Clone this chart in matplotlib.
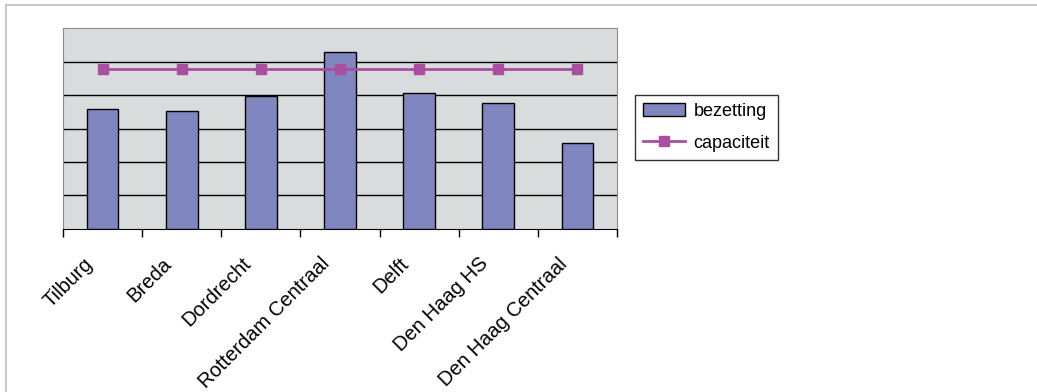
import matplotlib.pyplot as plt
import numpy as np
from matplotlib.lines import Line2D
import matplotlib.transforms as mtransforms

plt.rcParams['font.family'] = ['Liberation Sans', 'DejaVu Sans']

stations = ["Tilburg", "Breda", "Dordrecht", "Rotterdam Centraal",
            "Delft", "Den Haag HS", "Den Haag Centraal"]
bezetting = [3.57, 3.52, 3.97, 5.27, 4.05, 3.75, 2.58]
capaciteit = [4.78, 4.78, 4.78, 4.78, 4.78, 4.78, 4.78]

bar_color = "#7f86c0"
line_color = "#a84fa0"
bg_color = "#d9dcdc"

fig = plt.figure(figsize=(10.37, 3.92), dpi=100)
ax = fig.add_axes([63 / 1037, 1 - 229 / 392, 554 / 1037, 201 / 392])
ax.set_facecolor(bg_color)

x = np.arange(len(stations))
bars = ax.bar(x, bezetting, width=0.4, color=bar_color, edgecolor="black",
              linewidth=1, label="bezetting", zorder=3)
line, = ax.plot(x, capaciteit, color=line_color, lw=2, marker="s",
                markersize=7.5, label="capaciteit", zorder=4)

ax.set_xlim(-0.5, len(stations) - 0.5)
ax.set_ylim(0, 6)
ax.set_yticks(np.arange(1, 6))
ax.yaxis.grid(True, color="black", lw=1)
ax.set_axisbelow(True)
ax.tick_params(axis="y", left=False, labelleft=False)

ax.set_xticks(np.arange(len(stations) + 1) - 0.5)
ax.set_xticklabels([])
ax.tick_params(axis="x", direction="out", length=6, width=1, color="black")

for side in ["left", "top", "right"]:
    ax.spines[side].set_color("#8c8c8c")
ax.spines["bottom"].set_color("black")

# rotated station names, ending just left of each bar centre
trans = mtransforms.blended_transform_factory(ax.transData, ax.transAxes)
for i, name in enumerate(stations):
    ax.text(x[i] - 0.25, -0.125, name, rotation=45, ha="right", va="top",
            rotation_mode="anchor", fontsize=14.5, transform=trans)

leg = ax.legend([bars, line], ["bezetting", "capaciteit"], loc="upper left",
                bbox_to_anchor=(635 / 1037, 1 - 95 / 392),
                bbox_transform=fig.transFigure, fontsize=13, frameon=True,
                fancybox=False, edgecolor="black", handlelength=2.3,
                handletextpad=0.5, borderpad=0.45, labelspacing=0.8,
                borderaxespad=0)
leg.get_frame().set_linewidth(1)

# outer chart border (partly visible)
fig.add_artist(Line2D([6 / 1037, 1], [1 - 5 / 392, 1 - 5 / 392],
                      transform=fig.transFigure, color="#c8c8c8", lw=1.5))
fig.add_artist(Line2D([6 / 1037, 6 / 1037], [0, 1 - 5 / 392],
                      transform=fig.transFigure, color="#c8c8c8", lw=1.5))

fig.savefig("out.png", dpi=100)
